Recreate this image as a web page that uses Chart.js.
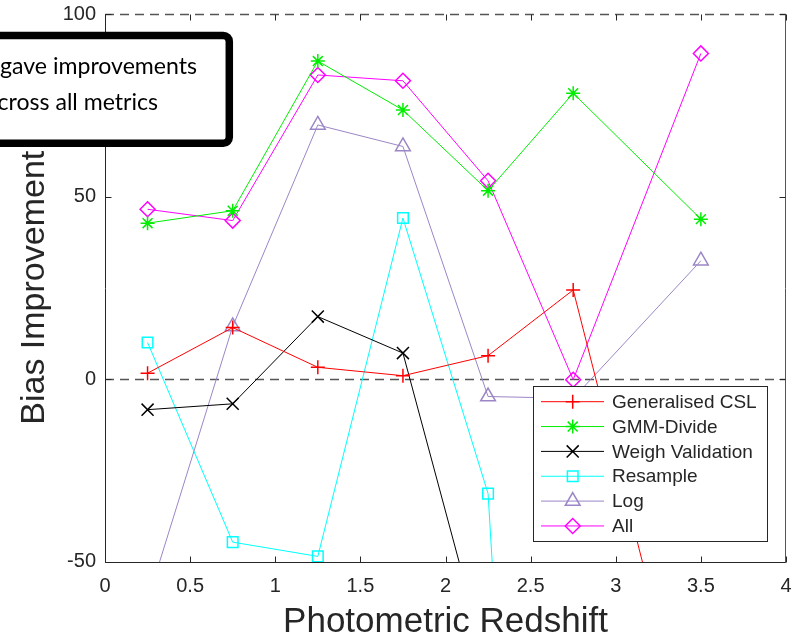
<!DOCTYPE html>
<html>
<head>
<meta charset="utf-8">
<script src="https://cdn.jsdelivr.net/npm/chart.js@4.4.0/dist/chart.umd.min.js"></script>
<style>
    html, body { margin: 0; padding: 0; background: #fff; }
    #wrap { position: relative; width: 796px; height: 635px; }
</style>
</head>
<body>
<div id="wrap"><canvas id="grafico" width="796" height="635"></canvas></div>
<script>
// values
const redshift = [0.25, 0.75, 1.25, 1.75, 2.25, 2.75, 3.5];
const generalisedCsl = [1.6, 14.1, 3.2, 0.9, 6.4, 24.4, -113];
const gmmDivide = [42.7, 46.1, 87.1, 73.7, 51.6, 78.3, 43.8];
const weighValidation = [-8.4, -6.8, 17.1, 7.1, -79.6, null, null];
const resample = [10.0, -44.7, -48.6, 44.1, -31.4, -420, null];
const logImprovement = [-60.7, 14.4, 69.6, 63.7, -4.8, -5.3, 32.4];
const allMethods = [46.5, 43.4, 83.3, 81.7, 54.3, -0.2, 89.2];

const seriesNames = ['Generalised CSL', 'GMM-Divide', 'Weigh Validation', 'Resample', 'Log', 'All'];
const seriesValues = [generalisedCsl, gmmDivide, weighValidation, resample, logImprovement, allMethods];
const seriesColors = ['#ff0000', '#00ee00', '#000000', '#00ffff', '#9b86c6', '#ff00ff'];
const seriesMarkers = ['cross', 'star', 'crossRot', 'rect', 'triangle', 'rectRot'];
const markerSizes = [7, 7, 8.5, 7.5, 8.5, 7.5];

const xTicks = [0, 0.5, 1, 1.5, 2, 2.5, 3, 3.5, 4];
const yTicks = [-50, 0, 50, 100];
const refLines = [0, 100];

const xTitle = 'Photometric Redshift';
const yTitle = 'Bias Improvement';
const noteLines = ['gave improvements', 'across all metrics'];

const textColor = '#262626';
const axisFont = 'Liberation Sans, Arial, sans-serif';

function noScalePadding(scale) {
    scale.paddingLeft = 0;
    scale.paddingRight = 0;
    scale.paddingTop = 0;
    scale.paddingBottom = 0;
}

const axesDecor = {
    id: 'axesDecor',
    beforeDatasetsDraw(chart) {
        const { ctx, chartArea: a, scales: { y } } = chart;
        ctx.save();
        ctx.strokeStyle = '#555';
        ctx.lineWidth = 1.5;
        ctx.setLineDash([9, 6]);
        refLines.forEach(v => {
            const py = Math.round(y.getPixelForValue(v)) + 0.5;
            ctx.beginPath();
            ctx.moveTo(a.left, py);
            ctx.lineTo(a.right, py);
            ctx.stroke();
        });
        ctx.restore();
    },
    afterDatasetsDraw(chart) {
        const { ctx, chartArea: a, scales: { x, y } } = chart;
        const tick = 6;
        ctx.save();
        ctx.lineWidth = 1;
        ctx.strokeStyle = textColor;

        const left = Math.round(a.left) + 0.5;
        const bottom = Math.round(a.bottom) + 0.5;
        const right = Math.round(a.right) - 0.5;
        const top = Math.round(a.top) + 0.5;

        ctx.beginPath();
        ctx.moveTo(left, top);
        ctx.lineTo(left, bottom);
        ctx.lineTo(right, bottom);
        ctx.stroke();

        ctx.strokeStyle = '#555';
        ctx.beginPath();
        ctx.moveTo(right, top);
        ctx.lineTo(right, bottom);
        ctx.stroke();

        ctx.strokeStyle = textColor;
        ctx.beginPath();
        xTicks.forEach(v => {
            const px = Math.round(x.getPixelForValue(v)) + 0.5;
            ctx.moveTo(px, bottom);
            ctx.lineTo(px, bottom - tick);
            ctx.moveTo(px, top);
            ctx.lineTo(px, top + tick);
        });
        yTicks.forEach(v => {
            const py = Math.round(y.getPixelForValue(v)) + 0.5;
            ctx.moveTo(left, py);
            ctx.lineTo(left + tick, py);
            ctx.moveTo(right, py);
            ctx.lineTo(right - tick, py);
        });
        ctx.stroke();
        ctx.restore();
    }
};

const legendBox = {
    id: 'legendBox',
    afterDatasetsDraw(chart) {
        const ctx = chart.ctx;
        const box = { left: 533, top: 386, width: 234, height: 155 };
        const rowStart = 401.7;
        const rowStep = 24.85;

        ctx.save();
        ctx.fillStyle = '#fff';
        ctx.fillRect(box.left, box.top, box.width, box.height);
        ctx.strokeStyle = textColor;
        ctx.lineWidth = 1;
        ctx.strokeRect(box.left + 0.5, box.top + 0.5, box.width, box.height);

        ctx.font = '19px ' + axisFont;
        ctx.textBaseline = 'middle';
        ctx.textAlign = 'left';

        seriesNames.forEach((name, i) => {
            const cy = rowStart + i * rowStep;
            ctx.strokeStyle = seriesColors[i];
            ctx.lineWidth = 1;
            ctx.beginPath();
            ctx.moveTo(541, cy);
            ctx.lineTo(604, cy);
            ctx.stroke();

            ctx.lineWidth = 1.5;
            ctx.fillStyle = 'rgba(0,0,0,0)';
            Chart.helpers.drawPoint(ctx, {
                pointStyle: seriesMarkers[i],
                radius: markerSizes[i],
                rotation: 0,
                borderWidth: 1.5
            }, 572.7, cy);

            ctx.fillStyle = textColor;
            ctx.fillText(name, 612, cy + 1);
        });
        ctx.restore();
    }
};

const noteBox = {
    id: 'noteBox',
    afterDraw(chart) {
        const ctx = chart.ctx;
        ctx.save();
        ctx.beginPath();
        ctx.roundRect(-20, 35.5, 249.3, 107.8, 6);
        ctx.fillStyle = '#fff';
        ctx.fill();
        ctx.lineWidth = 7.5;
        ctx.strokeStyle = '#000';
        ctx.stroke();

        ctx.font = '23px Lato';
        const fit = 197 / ctx.measureText(noteLines[0]).width;
        ctx.font = (23 * fit).toFixed(2) + 'px Lato';
        ctx.fillStyle = '#000';
        ctx.textAlign = 'right';
        ctx.textBaseline = 'alphabetic';
        ctx.fillText(noteLines[0], 197, 74);
        ctx.fillText(noteLines[1], 158, 110);
        ctx.restore();
    }
};

const datasets = seriesNames.map((name, i) => ({
    label: name,
    data: redshift.map((xv, j) => ({ x: xv, y: seriesValues[i][j] })),
    borderColor: seriesColors[i],
    backgroundColor: 'rgba(0,0,0,0)',
    pointBorderColor: seriesColors[i],
    pointBackgroundColor: 'rgba(0,0,0,0)',
    borderWidth: 1,
    pointStyle: seriesMarkers[i],
    pointRadius: markerSizes[i],
    pointBorderWidth: 1.5,
    tension: 0,
    clip: 1
}));

new Chart(document.getElementById('grafico').getContext('2d'), {
    type: 'line',
    data: { datasets },
    options: {
        responsive: false,
        animation: false,
        events: [],
        layout: { padding: { top: 14, right: 9, left: 0, bottom: 0 } },
        plugins: {
            legend: { display: false },
            tooltip: { enabled: false }
        },
        scales: {
            x: {
                type: 'linear',
                min: 0,
                max: 4,
                afterFit: scale => { scale.height = 73.5; noScalePadding(scale); },
                afterBuildTicks: scale => { scale.ticks = xTicks.map(v => ({ value: v })); },
                grid: { display: false, drawTicks: false },
                border: { display: false },
                ticks: {
                    padding: 13,
                    color: textColor,
                    font: { family: axisFont, size: 20 },
                    callback: v => String(v)
                },
                title: {
                    display: true,
                    text: xTitle,
                    color: textColor,
                    padding: 0,
                    font: { family: axisFont, size: 35, lineHeight: 0.75 }
                }
            },
            y: {
                type: 'linear',
                min: -50,
                max: 100,
                afterFit: scale => { scale.width = 105; noScalePadding(scale); },
                afterBuildTicks: scale => { scale.ticks = yTicks.map(v => ({ value: v })); },
                grid: { display: false, drawTicks: false },
                border: { display: false },
                ticks: {
                    padding: 9,
                    color: textColor,
                    font: { family: axisFont, size: 20 },
                    callback: v => String(v)
                },
                title: {
                    display: true,
                    text: yTitle,
                    color: textColor,
                    padding: { top: 14, bottom: 0 },
                    font: { family: axisFont, size: 34 }
                }
            }
        }
    },
    plugins: [axesDecor, legendBox, noteBox]
});
</script>
</body>
</html>
